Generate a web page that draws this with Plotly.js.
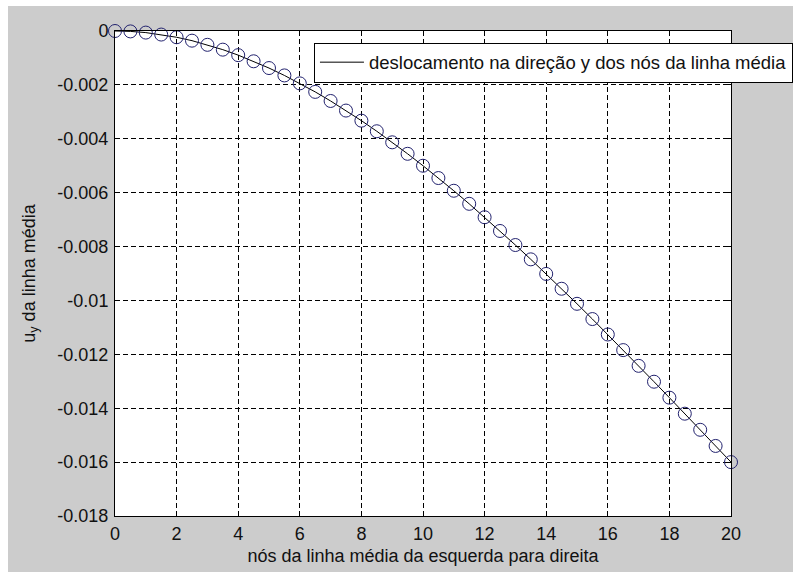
<!DOCTYPE html>
<html>
<head>
<meta charset="utf-8">
<script src="https://cdn.plot.ly/plotly-3.0.1.min.js"></script>
<style>
html,body{margin:0;padding:0;background:#ffffff;}
#chart{position:absolute;left:8px;top:6px;width:785px;height:566px;}
</style>
</head>
<body>
<div id="chart"></div>
<script>
// nodes of the middle line (x) and vertical displacement u_y
const nodes = [0,0.5,1,1.5,2,2.5,3,3.5,4,4.5,5,5.5,6,6.5,7,7.5,8,8.5,9,9.5,10,
               10.5,11,11.5,12,12.5,13,13.5,14,14.5,15,15.5,16,16.5,17,17.5,18,18.5,19,19.5,20];
const uy = [0,-0.000015,-0.000059,-0.000132,-0.000232,-0.000359,-0.000513,-0.000692,-0.000896,-0.001124,
            -0.001375,-0.001649,-0.001944,-0.00226,-0.002597,-0.002953,-0.003328,-0.003721,-0.004131,-0.004558,
            -0.005,-0.005457,-0.005929,-0.006414,-0.006912,-0.007422,-0.007943,-0.008475,-0.009016,-0.009566,
            -0.010125,-0.010691,-0.011264,-0.011843,-0.012427,-0.013016,-0.013608,-0.014203,-0.014801,-0.0154,-0.016];
const xTickVals = [0,2,4,6,8,10,12,14,16,18,20];
const xTickText = ['0','2','4','6','8','10','12','14','16','18','20'];
const yTickVals = [0,-0.002,-0.004,-0.006,-0.008,-0.01,-0.012,-0.014,-0.016,-0.018];
const yTickText = ['0','-0.002','-0.004','-0.006','-0.008','-0.01','-0.012','-0.014','-0.016','-0.018'];
const legendName = 'deslocamento na direção y dos nós da linha média';
const xTitle = 'nós da linha média da esquerda para direita';
const yTitle = 'u<sub>y</sub> da linha média';

const FONT = 'Liberation Sans, Arial, sans-serif';

const traces = [
  {x: nodes, y: uy, type: 'scatter', mode: 'lines', name: legendName,
   line: {color: '#000000', width: 1}, showlegend: true},
  {x: nodes, y: uy, type: 'scatter', mode: 'markers', showlegend: false, cliponaxis: false,
   marker: {symbol: 'circle-open', size: 13, color: '#22226e', line: {width: 1, color: '#22226e'}}}
];

const axisCommon = {
  showline: true, linecolor: '#000000', linewidth: 1, mirror: 'ticks',
  ticks: 'inside', ticklen: 5, tickcolor: '#000000', tickwidth: 1,
  showgrid: true, gridcolor: '#000000', gridwidth: 1, griddash: '5px,3px',
  zeroline: false, tickfont: {family: FONT, size: 18, color: '#111111'},
  tickmode: 'array', automargin: false
};

const layout = {
  width: 785, height: 566,
  paper_bgcolor: '#cccccc', plot_bgcolor: '#ffffff',
  margin: {l: 107, r: 62, t: 25, b: 56, autoexpand: false},
  font: {family: FONT, size: 18, color: '#111111'},
  xaxis: Object.assign({}, axisCommon, {
    range: [0, 20], tickvals: xTickVals, ticktext: xTickText, ticklabelstandoff: 1,
    title: {text: xTitle, font: {family: FONT, size: 18, color: '#111111'}, standoff: 6}
  }),
  yaxis: Object.assign({}, axisCommon, {
    range: [-0.018, 0], tickvals: yTickVals, ticktext: yTickText, ticklabelstandoff: 2,
    title: {text: yTitle, font: {family: FONT, size: 18, color: '#111111'}, standoff: 17}
  }),
  legend: {
    x: 0.323, y: 0.976, xanchor: 'left', yanchor: 'top',
    itemwidth: 44,
    bgcolor: '#ffffff', bordercolor: '#000000', borderwidth: 1,
    font: {family: FONT, size: 18.5, color: '#111111'}
  },
  showlegend: true
};

Plotly.newPlot('chart', traces, layout, {displayModeBar: false, staticPlot: true});
</script>
</body>
</html>
